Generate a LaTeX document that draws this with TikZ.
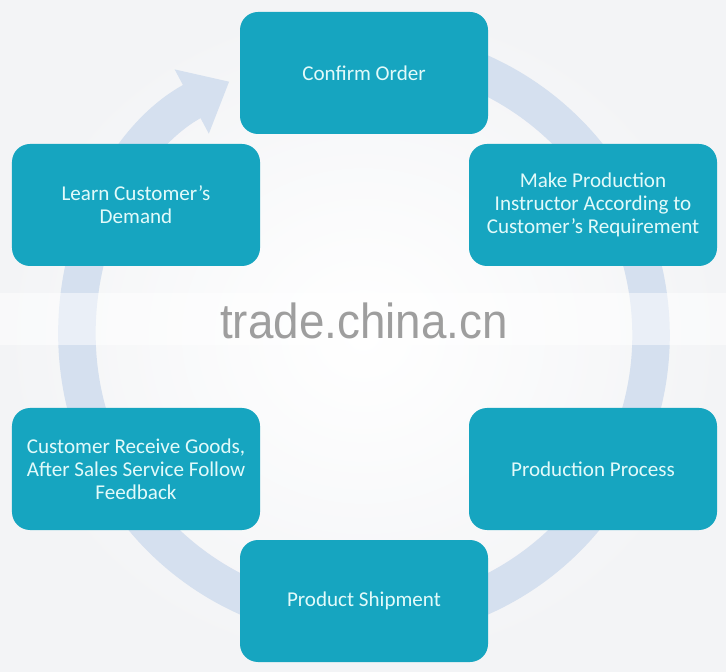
\documentclass[tikz,border=0pt]{standalone}
\usepackage{fontspec}
\setmainfont{Carlito}
\newfontfamily\markfont{Liberation Sans}
\usepackage{xcolor}
\usetikzlibrary{arrows.meta}

\definecolor{boxteal}{RGB}{22,165,192}
\definecolor{boxtext}{RGB}{226,250,250}
\definecolor{ringblue}{RGB}{213,224,239}
\definecolor{bgedge}{RGB}{243,244,246}
\definecolor{markgray}{RGB}{158,158,158}

\begin{document}
\begin{tikzpicture}[
    stage/.style={rectangle, rounded corners=3.6mm, fill=boxteal, text=boxtext, align=center, minimum width=4.96cm, minimum height=2.44cm, font=\fontsize{12}{13.1}\selectfont},
    ring/.style={draw=ringblue, line width=7.5mm, -{Triangle[length=8.5mm, width=14mm]}}
]

% background
\useasboundingbox (0,0) rectangle (14.52,13.42);
\shade[inner color=white, outer color=bgedge] (0,0) rectangle (14.52,13.42);

% cycle ring behind the steps
\coordinate (hub) at (7.28,6.72);
\draw[ring] ([shift={(100:5.74)}]hub) arc[start angle=100, end angle=-242, radius=5.74];

% watermark
\fill[white, opacity=0.5] (0,6.52) rectangle (14.52,7.56);
\node[font=\markfont\fontsize{28}{30}\selectfont, text=markgray, xscale=0.93] (mark) at (7.28,7.0) {trade.china.cn};

% steps
\node[stage] (confirm) at (7.28,11.96) {Confirm Order};
\node[stage] (make) at (11.86,9.32) {Make Production\\Instructor According to\\Customer’s Requirement};
\node[stage] (process) at (11.86,4.04) {Production Process};
\node[stage] (ship) at (7.28,1.40) {Product Shipment};
\node[stage] (receive) at (2.72,4.04) {Customer Receive Goods,\\After Sales Service Follow\\Feedback};
\node[stage] (learn) at (2.72,9.32) {Learn Customer’s\\Demand};

\end{tikzpicture}
\end{document}
